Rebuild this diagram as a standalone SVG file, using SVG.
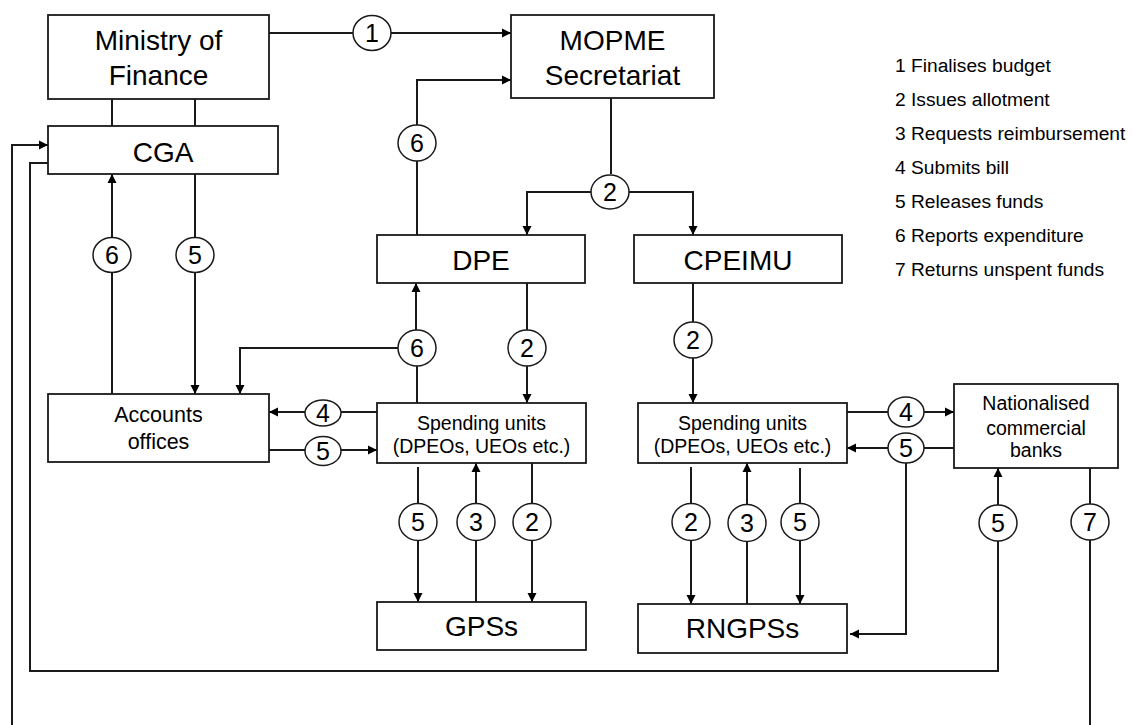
<svg xmlns="http://www.w3.org/2000/svg" width="1132" height="725" viewBox="0 0 1132 725">
<style>
.box{fill:#fff;stroke:#1a1a1a;stroke-width:1.8}
.t{font-family:"Liberation Sans",Arial,sans-serif;fill:#000;text-anchor:middle}
.big{font-size:28px}
.mid{font-size:19.5px}
.acc{font-size:21.5px}
.leg{font-family:"Liberation Sans",Arial,sans-serif;font-size:19.2px;fill:#000}
.ln{fill:none;stroke:#1a1a1a;stroke-width:2}
.arr{marker-end:url(#ah)}
.c{fill:#fff;stroke:#1a1a1a;stroke-width:1.5}
.n{font-family:"Liberation Sans",Arial,sans-serif;font-size:25px;fill:#000;text-anchor:middle}
</style>
<defs>
<marker id="ah" viewBox="0 0 10 10" refX="10" refY="5" markerWidth="9" markerHeight="10" orient="auto" markerUnits="userSpaceOnUse">
<path d="M0,0 L10,5 L0,10 z" fill="#000"/>
</marker>
</defs>
<rect width="1132" height="725" fill="#fff"/>

<g id="connectors">
<line class="ln" x1="112" y1="99" x2="112" y2="126"/>
<line class="ln" x1="195" y1="99" x2="195" y2="126"/>
<line class="ln" x1="269" y1="33" x2="353" y2="33"/>
<line class="ln arr" x1="391" y1="33" x2="511" y2="33"/>
<line class="ln" x1="417" y1="235" x2="417" y2="161"/>
<polyline class="ln arr" points="417,125 417,80 511,80"/>
<line class="ln" x1="611" y1="98" x2="611" y2="174"/>
<polyline class="ln arr" points="592,192 527,192 527,235"/>
<polyline class="ln arr" points="629,192 693,192 693,235"/>
<line class="ln" x1="417" y1="403" x2="417" y2="366"/>
<line class="ln arr" x1="416" y1="330" x2="416" y2="283"/>
<polyline class="ln arr" points="398,348 240,348 240,394"/>
<line class="ln" x1="527" y1="283" x2="527" y2="330"/>
<line class="ln arr" x1="527" y1="366" x2="527" y2="403"/>
<line class="ln" x1="693" y1="283" x2="693" y2="322"/>
<line class="ln arr" x1="693" y1="358" x2="693" y2="403"/>
<line class="ln" x1="377" y1="412" x2="341" y2="412"/>
<line class="ln arr" x1="305" y1="412" x2="269" y2="412"/>
<line class="ln" x1="269" y1="450" x2="305" y2="450"/>
<line class="ln arr" x1="341" y1="450" x2="377" y2="450"/>
<line class="ln" x1="112" y1="394" x2="112" y2="273"/>
<line class="ln arr" x1="112" y1="237" x2="112" y2="174"/>
<line class="ln" x1="195" y1="174" x2="195" y2="237"/>
<line class="ln arr" x1="195" y1="273" x2="195" y2="394"/>
<polyline class="ln arr" points="12,725 12,145 48,145"/>
<polyline class="ln" points="48,163 30,163 30,671 998,671 998,541"/>
<line class="ln arr" x1="998" y1="505" x2="998" y2="468"/>
<line class="ln" x1="1090" y1="468" x2="1090" y2="504"/>
<line class="ln" x1="1090" y1="540" x2="1090" y2="725"/>
<line class="ln" x1="847" y1="412" x2="888" y2="412"/>
<line class="ln arr" x1="924" y1="412" x2="954" y2="412"/>
<line class="ln" x1="954" y1="448" x2="924" y2="448"/>
<line class="ln arr" x1="888" y1="448" x2="847" y2="448"/>
<polyline class="ln arr" points="906,463 906,634 850,634"/>
<line class="ln" x1="418" y1="467" x2="418" y2="504"/>
<line class="ln arr" x1="418" y1="540" x2="418" y2="602"/>
<line class="ln" x1="476" y1="602" x2="476" y2="540"/>
<line class="ln arr" x1="476" y1="504" x2="476" y2="463"/>
<line class="ln" x1="532" y1="463" x2="532" y2="504"/>
<line class="ln arr" x1="532" y1="540" x2="532" y2="602"/>
<line class="ln" x1="691" y1="467" x2="691" y2="504"/>
<line class="ln arr" x1="691" y1="540" x2="691" y2="604"/>
<line class="ln" x1="747" y1="604" x2="747" y2="540"/>
<line class="ln arr" x1="747" y1="504" x2="747" y2="463"/>
<line class="ln" x1="800" y1="468" x2="800" y2="504"/>
<line class="ln arr" x1="800" y1="540" x2="800" y2="604"/>

<g id="c1"><ellipse class="c" cx="372" cy="33" rx="19" ry="17.5"/><text class="n" x="372" y="42">1</text></g>
<g id="c6a"><ellipse class="c" cx="417" cy="143" rx="19" ry="18"/><text class="n" x="417" y="152">6</text></g>
<g id="c2a"><ellipse class="c" cx="610" cy="192" rx="19" ry="17"/><text class="n" x="610" y="201">2</text></g>
<g id="c6b"><ellipse class="c" cx="417" cy="348" rx="19" ry="18"/><text class="n" x="417" y="357">6</text></g>
<g id="c2b"><ellipse class="c" cx="527" cy="348" rx="19" ry="18"/><text class="n" x="527" y="357">2</text></g>
<g id="c2c"><ellipse class="c" cx="693" cy="340" rx="19" ry="18"/><text class="n" x="693" y="349">2</text></g>
<g id="c6c"><ellipse class="c" cx="112" cy="255" rx="19" ry="17.5"/><text class="n" x="112" y="264">6</text></g>
<g id="c5a"><ellipse class="c" cx="195" cy="255" rx="19" ry="17.5"/><text class="n" x="195" y="264">5</text></g>
<g id="c4a"><ellipse class="c" cx="323" cy="413" rx="18" ry="13"/><text class="n" x="323" y="422">4</text></g>
<g id="c5b"><ellipse class="c" cx="323" cy="451" rx="18" ry="14.5"/><text class="n" x="323" y="460">5</text></g>
<g id="c4b"><ellipse class="c" cx="906" cy="412" rx="18" ry="15"/><text class="n" x="906" y="421">4</text></g>
<g id="c5c"><ellipse class="c" cx="906" cy="448" rx="18" ry="15"/><text class="n" x="906" y="457">5</text></g>
<g id="c5d"><ellipse class="c" cx="418" cy="522" rx="19" ry="18.5"/><text class="n" x="418" y="531">5</text></g>
<g id="c3a"><ellipse class="c" cx="476" cy="522" rx="19" ry="18.5"/><text class="n" x="476" y="531">3</text></g>
<g id="c2d"><ellipse class="c" cx="532" cy="522" rx="19" ry="18.5"/><text class="n" x="532" y="531">2</text></g>
<g id="c2e"><ellipse class="c" cx="691" cy="522" rx="19" ry="18.5"/><text class="n" x="691" y="531">2</text></g>
<g id="c3b"><ellipse class="c" cx="747" cy="523" rx="19" ry="18.5"/><text class="n" x="747" y="532">3</text></g>
<g id="c5e"><ellipse class="c" cx="800" cy="522" rx="19" ry="18.5"/><text class="n" x="800" y="531">5</text></g>
<g id="c5f"><ellipse class="c" cx="998" cy="523" rx="19" ry="18"/><text class="n" x="998" y="532">5</text></g>
<g id="c7"><ellipse class="c" cx="1090" cy="522" rx="19" ry="18"/><text class="n" x="1090" y="531">7</text></g>
</g>

<g id="mof"><rect class="box" x="48" y="15" width="221" height="84"/><text class="t big" x="158.5" y="50">Ministry of</text><text class="t big" x="158.5" y="85">Finance</text></g>
<g id="cga"><rect class="box" x="48" y="126" width="230" height="48"/><text class="t big" x="163" y="162">CGA</text></g>
<g id="mopme"><rect class="box" x="511" y="15" width="203" height="83"/><text class="t big" x="612.5" y="50">MOPME</text><text class="t big" x="612.5" y="85">Secretariat</text></g>
<g id="dpe"><rect class="box" x="377" y="235" width="208" height="48"/><text class="t big" x="481" y="270">DPE</text></g>
<g id="cpeimu"><rect class="box" x="634" y="235" width="208" height="48"/><text class="t big" x="738" y="270">CPEIMU</text></g>
<g id="accounts"><rect class="box" x="48" y="394" width="221" height="68"/><text class="t acc" x="158.5" y="422">Accounts</text><text class="t acc" x="158.5" y="449">offices</text></g>
<g id="su1"><rect class="box" x="377" y="403" width="209" height="60"/><text class="t mid" x="481.5" y="430">Spending units</text><text class="t mid" x="481.5" y="453">(DPEOs, UEOs etc.)</text></g>
<g id="su2"><rect class="box" x="638" y="403" width="209" height="60"/><text class="t mid" x="742.5" y="430">Spending units</text><text class="t mid" x="742.5" y="453">(DPEOs, UEOs etc.)</text></g>
<g id="banks"><rect class="box" x="954" y="384" width="164" height="84"/><text class="t mid" x="1036" y="410">Nationalised</text><text class="t mid" x="1036" y="435">commercial</text><text class="t mid" x="1036" y="457">banks</text></g>
<g id="gps"><rect class="box" x="377" y="602" width="209" height="48"/><text class="t big" x="481.5" y="636">GPSs</text></g>
<g id="rngps"><rect class="box" x="638" y="604" width="209" height="49"/><text class="t big" x="742.5" y="638">RNGPSs</text></g>

<g id="legend">
<text class="leg" x="895" y="72">1 Finalises budget</text>
<text class="leg" x="895" y="106">2 Issues allotment</text>
<text class="leg" x="895" y="140">3 Requests reimbursement</text>
<text class="leg" x="895" y="174">4 Submits bill</text>
<text class="leg" x="895" y="208">5 Releases funds</text>
<text class="leg" x="895" y="242">6 Reports expenditure</text>
<text class="leg" x="895" y="276">7 Returns unspent funds</text>
</g>
</svg>
